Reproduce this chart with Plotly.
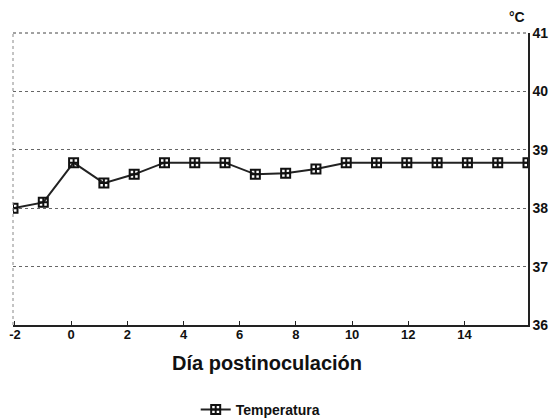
import plotly.graph_objects as go

days = [-2, -1, 0, 1, 2, 3, 4, 5, 6, 7, 8, 9, 10, 11, 12, 13, 14, 15]
temperatura = [38.0, 38.1, 38.78, 38.43, 38.58, 38.78, 38.78, 38.78, 38.58, 38.6,
               38.67, 38.78, 38.78, 38.78, 38.78, 38.78, 38.78, 38.78]
x_tick_vals = [-2, 0, 2, 4, 6, 8, 10, 12, 14]
x_tick_text = ["-2", "0", "2", "4", "6", "8", "10", "12", "14"]
y_tick_vals = [36, 37, 38, 39, 40, 41]

FONT = "Liberation Sans, Arial, sans-serif"

fig = go.Figure()
fig.add_trace(go.Scatter(
    x=days, y=temperatura, mode="lines+markers", name="Temperatura",
    line=dict(color="#222222", width=2),
    marker=dict(symbol="square-cross-open", size=9, color="#111111",
                line=dict(color="#111111", width=2)),
))
# invisible trace to activate the label axis
fig.add_trace(go.Scatter(x=[None], y=[None], xaxis="x2", showlegend=False,
                         hoverinfo="skip"))

fig.update_layout(
    template="none",
    width=554, height=418,
    margin=dict(l=13, r=26, t=33, b=93, pad=0, autoexpand=False),
    paper_bgcolor="white", plot_bgcolor="white",
    font=dict(family=FONT, color="#111111"),
    showlegend=True,
    legend=dict(orientation="h", x=0.48, xanchor="center", y=-0.291,
                yanchor="middle", font=dict(size=14, weight="bold"),
                bgcolor="rgba(0,0,0,0)"),
    xaxis=dict(range=[-2, 15], showticklabels=False, showgrid=False,
               zeroline=False, showline=True, linecolor="#222222",
               linewidth=1.5, ticks="", automargin=False),
    xaxis2=dict(overlaying="x", side="bottom", anchor="y",
                range=[-2.07, 16.26], tickvals=x_tick_vals,
                ticktext=x_tick_text, showgrid=False, zeroline=False,
                showline=False, ticks="inside", ticklen=4,
                tickcolor="#222222", automargin=False,
                tickfont=dict(size=13, weight="bold")),
    yaxis=dict(side="right", range=[36, 41], tickvals=y_tick_vals,
               showgrid=True, gridcolor="#666666", griddash="dot",
               gridwidth=1, zeroline=False, showline=True,
               linecolor="#222222", linewidth=1.5, ticks="",
               automargin=False,
               tickfont=dict(size=14, weight="bold")),
    shapes=[
        dict(type="line", xref="paper", yref="paper", x0=0, x1=0, y0=0, y1=1,
             line=dict(color="#888888", width=1, dash="dot")),
        dict(type="line", xref="paper", yref="paper", x0=0, x1=1, y0=1, y1=1,
             line=dict(color="#444444", width=1, dash="dot")),
    ],
    annotations=[
        dict(text="Día postinoculación", xref="paper", yref="paper",
             x=0.494, y=-0.130, xanchor="center", yanchor="middle",
             showarrow=False, font=dict(size=20, weight="bold")),
        dict(text="°C", xref="paper", yref="paper", x=0.979, y=1.055,
             xanchor="center", yanchor="middle", showarrow=False,
             font=dict(size=14, weight="bold")),
    ],
)

fig.write_html(
    "out.html",
    config={"displayModeBar": False},
    post_script="document.body.style.margin='0';"
                "document.body.style.overflow='hidden';",
)
